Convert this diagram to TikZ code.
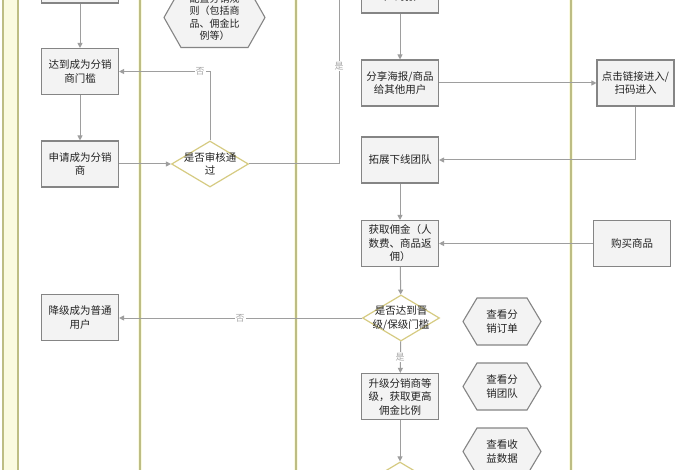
\documentclass[tikz,border=0pt]{standalone}
\usepackage{fontspec}
\setmainfont{Noto Sans CJK SC}
\usetikzlibrary{arrows.meta,shapes.geometric}
\definecolor{boxfill}{HTML}{F3F3F3}
\definecolor{boxborder}{HTML}{858585}
\definecolor{diaborder}{HTML}{D6CB82}
\definecolor{arrc}{HTML}{9E9E9E}
\definecolor{lanec}{HTML}{BDBD84}
\definecolor{lanefill}{HTML}{FAFAE0}
\definecolor{txt}{HTML}{222222}
\definecolor{lblc}{HTML}{A8A8A8}
\begin{document}
\begin{tikzpicture}[x=1pt,y=-1pt,
  font=\fontsize{10.5}{13.5}\selectfont,
  box/.style={draw=boxborder, fill=boxfill, line width=1.1pt, minimum width=77pt,
    minimum height=46pt, inner sep=0pt, align=center, text=txt},
  dia/.style={diamond, draw=diaborder, fill=white, line width=1.2pt,
    minimum width=77pt, minimum height=46pt, inner sep=0pt},
  arr/.style={draw=arrc, line width=1pt, -{Triangle[length=5pt,width=5pt]}},
  plain/.style={draw=arrc, line width=1pt},
  lbl/.style={fill=white, text=lblc, font=\fontsize{9}{10}\selectfont, inner sep=1pt},
  lane/.style={draw=lanec, line width=1.1pt},
  laneglow/.style={draw=lanefill, line width=4pt},
  hexs/.style={draw=boxborder, fill=boxfill, line width=1.1pt}
]
\useasboundingbox (0,0) rectangle (700,470);
\clip (0,0) rectangle (700,470);
\fill[white] (0,0) rectangle (700,470);

% swimlane borders
\fill[lanefill] (3,0) rectangle (18,470);
\foreach \lx in {140,296,571}{
  \draw[laneglow] (\lx,0) -- (\lx,470);
}
\foreach \lx in {3,18,140,296,571}{
  \draw[lane] (\lx,0) -- (\lx,470);
}

% left lane
\node[box] (tl) at (80,-20) {};
\node[box] (reach) at (80,71.5) {达到成为分销\\商门槛};
\node[box] (apply) at (80,164) {申请成为分销\\商};
\node[box] (down) at (80,317.5) {降级成为普通\\用户};

% second lane
\draw[hexs] (164,17.5) -- (181,-12.5) -- (248,-12.5) -- (265,17.5) -- (248,47.5) -- (181,47.5) -- cycle;
\node[align=center, text=txt, font=\fontsize{10}{12.5}\selectfont] (rules) at (214.5,17.5) {配置分销规\\则（包括商\\品、佣金比\\例等）};
\node[dia, label={[align=center,text=txt,font=\fontsize{10.5}{13.5}\selectfont]center:是否审核通\\过}] (d1) at (210,164) {};

% third lane
\node[box] (mtop) at (400,-10) {生成专属推\\广海报};
\node[box] (share) at (400,83) {分享海报/商品\\给其他用户};
\node[box] (expand) at (400,160) {拓展下线团队};
\node[box] (earn) at (400,243.5) {获取佣金（人\\数费、商品返\\佣）};
\node[dia, label={[align=center,text=txt,font=\fontsize{10.5}{13.5}\selectfont]center:是否达到晋\\级/保级门槛}] (d2) at (401,318) {};
\node[box] (up) at (400,396.5) {升级分销商等\\级，获取更高\\佣金比例};
\node[dia] (d3) at (400,485) {};

% hexagons
\foreach \cy/\t [count=\i] in {321.5/查看分\\销订单, 386.5/查看分\\销团队, 451.5/查看收\\益数据}{
  \draw[hexs] (463,\cy) -- (477,\cy-23.5) -- (527,\cy-23.5) -- (541,\cy) -- (527,\cy+23.5) -- (477,\cy+23.5) -- cycle;
  \node[align=center, text=txt] (hx\i) at (502,\cy) {\t};
}

% right lane
\node[box] (click) at (635.5,83) {点击链接进入/\\扫码进入};
\node[box] (buy) at (632,243.5) {购买商品};

% connectors
\coordinate (up1) at (339,-5);
\draw[arr] (tl) -- (reach);
\draw[arr] (reach) -- (apply);
\draw[arr] (apply) -- (d1);
\draw[arr] (d1.north) |- (reach.east);
\node[lbl] (no1) at (200,71.5) {否};
\draw[plain] (d1.east) -| (up1);
\node[lbl] (yes1) at (339,66) {是};
\draw[arr] (mtop) -- (share);
\draw[arr] (share) -- (click);
\draw[arr] (click.south) |- (expand.east);
\draw[arr] (expand) -- (earn);
\draw[arr] (buy) -- (earn);
\draw[arr] (earn) -- (d2);
\draw[arr] (d2.west) -- (down.east |- d2.west);
\node[lbl] (no2) at (240,318) {否};
\draw[arr] (d2) -- (up);
\node[lbl] (yes2) at (400,357) {是};
\draw[arr] (up) -- (d3);
\end{tikzpicture}
\end{document}
